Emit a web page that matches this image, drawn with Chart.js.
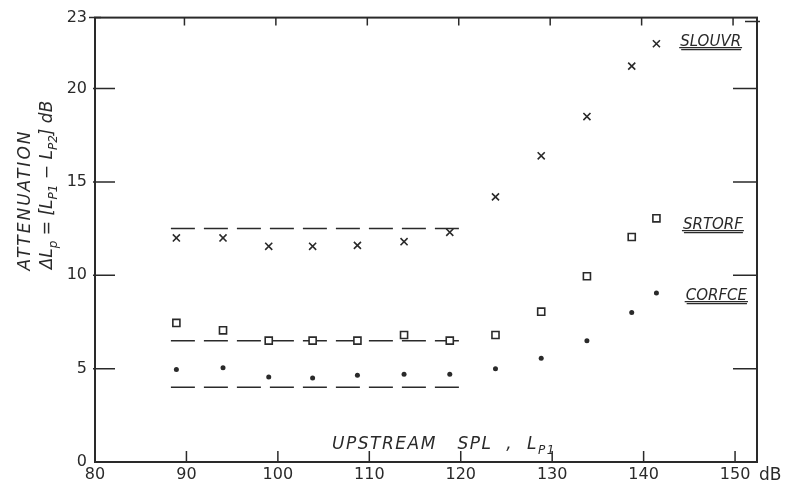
<!DOCTYPE html>
<html>
<head>
<meta charset="utf-8">
<script src="https://cdn.jsdelivr.net/npm/chart.js@4.4.0/dist/chart.umd.min.js"></script>
<style>
  html, body { margin: 0; padding: 0; background: #fff; }
  #wrap { width: 786px; height: 484px; }
</style>
</head>
<body>
<div id="wrap"><canvas id="chart" width="786" height="484"></canvas></div>
<script>
// upstream SPL, dB
const spl = [88.9, 94, 99, 103.8, 108.7, 113.8, 118.8, 123.8, 128.8, 133.8, 138.7, 141.4];
const slouvr = [12.0, 12.0, 11.55, 11.55, 11.6, 11.8, 12.3, 14.2, 16.4, 18.5, 21.2, 22.4];
const srtorf = [7.45, 7.05, 6.5, 6.5, 6.5, 6.8, 6.5, 6.8, 8.05, 9.95, 12.05, 13.05];
const corfce = [4.95, 5.05, 4.55, 4.5, 4.65, 4.7, 4.7, 5.0, 5.55, 6.5, 8.0, 9.05];

// dashed reference levels over the low-SPL range
const dashLevels = [12.5, 6.5, 4.0];
const dashRange = [88.3, 120];

const xTicks = [80, 90, 100, 110, 120, 130, 140, 150];
const yTicks = [0, 5, 10, 15, 20, 23.8];
const yTickLabels = ['0', '5', '10', '15', '20', '23'];

const INK = '#2a2a2a';
const FONT = '"DejaVu Sans", sans-serif';

function pts(ys) {
  return ys.map((y, i) => ({ x: spl[i], y: y }));
}

const datasets = [
  { label: 'SLOUVR', data: pts(slouvr), pointStyle: 'crossRot', pointRadius: 5, borderColor: INK, borderWidth: 1.6, showLine: false },
  { label: 'SRTORF', data: pts(srtorf), pointStyle: 'rect', pointRadius: 5, borderColor: INK, backgroundColor: '#fff', borderWidth: 1.6, showLine: false },
  { label: 'CORFCE', data: pts(corfce), pointStyle: 'circle', pointRadius: 2.5, borderColor: INK, backgroundColor: INK, borderWidth: 0, showLine: false }
];
dashLevels.forEach(v => {
  datasets.push({
    type: 'line', label: 'level', showLine: true,
    data: [{ x: dashRange[0], y: v }, { x: dashRange[1], y: v }],
    borderColor: INK, borderWidth: 1.5, borderDash: [24, 9], pointRadius: 0
  });
});

// draws text made of normal and subscript pieces, centred on (cx, cy)
function richText(ctx, parts, cx, cy, size) {
  const big = 'italic ' + size + 'px ' + FONT;
  const small = 'italic ' + Math.round(size * 0.7) + 'px ' + FONT;
  let total = 0;
  parts.forEach(p => { ctx.font = p[1] ? small : big; total += ctx.measureText(p[0]).width; });
  let x = cx - total / 2;
  ctx.textAlign = 'left';
  ctx.textBaseline = 'alphabetic';
  parts.forEach(p => {
    ctx.font = p[1] ? small : big;
    ctx.fillText(p[0], x, p[1] ? cy + size * 0.3 : cy);
    x += ctx.measureText(p[0]).width;
  });
}

const frame = {
  id: 'frame',
  afterDraw(chart) {
    const ctx = chart.ctx;
    const a = chart.chartArea;
    const xs = chart.scales.x, ys = chart.scales.y;
    ctx.save();
    ctx.strokeStyle = INK;
    ctx.fillStyle = INK;
    ctx.lineWidth = 2;
    ctx.strokeRect(a.left, a.top, a.right - a.left, a.bottom - a.top);

    ctx.lineWidth = 1.5;
    ctx.beginPath();
    xTicks.slice(1).forEach(v => {
      const px = xs.getPixelForValue(v);
      ctx.moveTo(px, a.bottom); ctx.lineTo(px, a.bottom - 11);
      ctx.moveTo(px - 2, a.top); ctx.lineTo(px - 2, a.top + 8);
    });
    yTicks.slice(1, 5).forEach(v => {
      const py = ys.getPixelForValue(v);
      ctx.moveTo(a.left - 2, py); ctx.lineTo(a.left + 20, py);
      ctx.moveTo(a.right, py); ctx.lineTo(a.right - 24, py);
    });
    ctx.moveTo(a.left - 6, a.top); ctx.lineTo(a.left + 6, a.top);
    ctx.moveTo(a.right - 12, a.top + 4); ctx.lineTo(a.right + 3, a.top + 4);
    ctx.stroke();

    // unit after last x tick
    ctx.font = '17px ' + FONT;
    ctx.textAlign = 'left';
    ctx.textBaseline = 'alphabetic';
    ctx.fillText('dB', a.right + 2, a.bottom + 18);

    // x title inside plot
    ctx.save();
    ctx.letterSpacing = '1.5px';
    richText(ctx, [['UPSTREAM   SPL  ,  L', false], ['P1', true]], 444, a.bottom - 13, 17);
    ctx.restore();

    // y title, two rotated lines
    ctx.save();
    ctx.translate(24, 200);
    ctx.rotate(-Math.PI / 2);
    ctx.letterSpacing = '2px';
    richText(ctx, [['ATTENUATION', false]], 0, 6, 17);
    ctx.restore();
    ctx.save();
    ctx.translate(46, 185);
    ctx.rotate(-Math.PI / 2);
    richText(ctx, [['\u0394L', false], ['p', true], [' = [L', false], ['P1', true], [' \u2212 L', false], ['P2', true], ['] dB', false]], 0, 6, 17);
    ctx.restore();

    // series names, underlined
    const names = [['SLOUVR', 144, 22.3], ['SRTORF', 144.3, 12.5], ['CORFCE', 144.6, 8.7]];
    ctx.font = 'italic 15px ' + FONT;
    ctx.textAlign = 'left';
    ctx.lineWidth = 1.3;
    names.forEach(n => {
      const px = xs.getPixelForValue(n[1]);
      const py = ys.getPixelForValue(n[2]);
      ctx.fillText(n[0], px, py);
      const w = ctx.measureText(n[0]).width;
      ctx.beginPath();
      ctx.moveTo(px - 1, py + 2); ctx.lineTo(px + w + 1, py + 2);
      ctx.moveTo(px + 1, py + 4); ctx.lineTo(px + w, py + 4);
      ctx.stroke();
    });
    ctx.restore();
  }
};

new Chart(document.getElementById('chart').getContext('2d'), {
  type: 'scatter',
  data: { datasets: datasets },
  options: {
    responsive: false,
    animation: false,
    layout: { padding: { top: 14, right: 29, left: 0, bottom: 0 } },
    plugins: { legend: { display: false }, tooltip: { enabled: false } },
    scales: {
      x: {
        type: 'linear', min: 80, max: 152.4,
        afterBuildTicks: s => { s.ticks = xTicks.map(v => ({ value: v })); },
        afterFit: s => { s.height = 22; },
        grid: { display: false, drawTicks: false },
        border: { display: false },
        ticks: { color: INK, font: { family: FONT, size: 16 }, padding: 3, maxRotation: 0 }
      },
      y: {
        type: 'linear', min: 0, max: 23.8,
        afterBuildTicks: s => { s.ticks = yTicks.map(v => ({ value: v })); },
        afterFit: s => { s.width = 95; },
        grid: { display: false, drawTicks: false },
        border: { display: false },
        ticks: {
          color: INK, font: { family: FONT, size: 16 }, padding: 8,
          callback: (v, i) => yTickLabels[i]
        }
      }
    }
  },
  plugins: [frame]
});
</script>
</body>
</html>
